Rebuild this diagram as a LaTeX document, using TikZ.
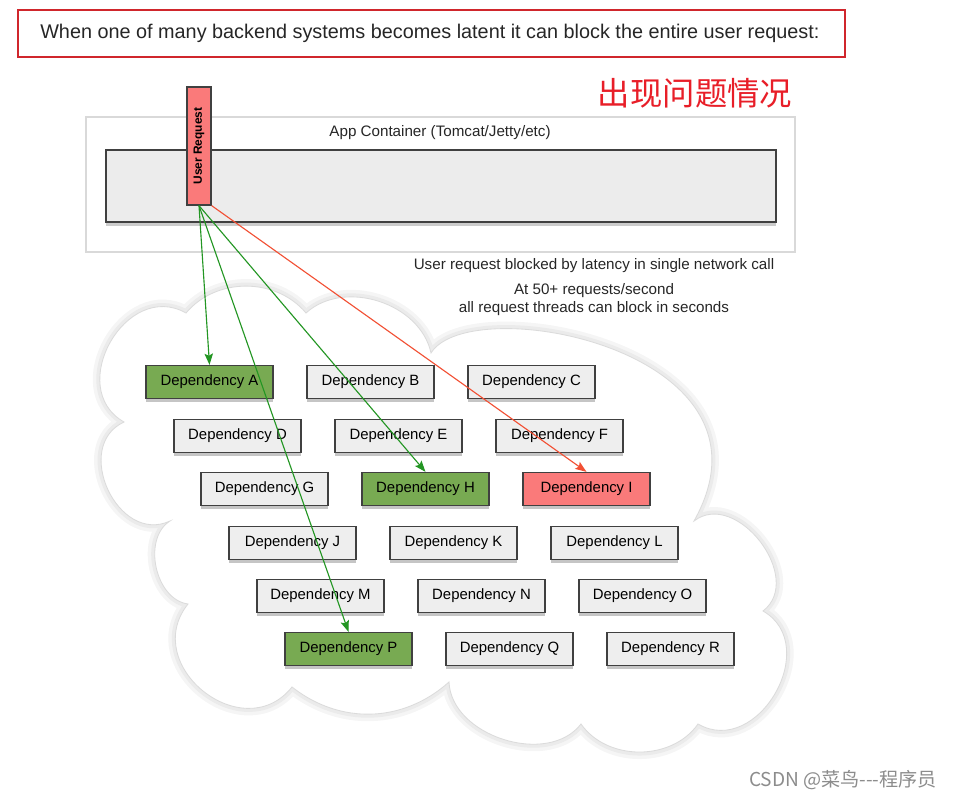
\documentclass[tikz,border=0pt]{standalone}
\usepackage{fontspec}
\setmainfont{Liberation Sans}
\newfontfamily\cjkfont{Noto Sans CJK SC}
\usepackage{tikz}
\usetikzlibrary{arrows, arrows.meta, shadows, positioning}
\definecolor{depgreen}{RGB}{120,170,82}
\definecolor{depred}{RGB}{250,122,122}
\definecolor{depgray}{RGB}{238,238,238}
\definecolor{framered}{RGB}{208,38,44}
\definecolor{titlered}{RGB}{232,30,40}
\definecolor{arrowgreen}{RGB}{35,150,35}
\definecolor{arrowred}{RGB}{242,80,52}
\tikzstyle{arrow} = [-{Stealth[length=8pt, width=6pt, inset=1.5pt]}, line width=0.8pt]
\tikzset{dep/.style={draw=black!75, line width=0.9pt, fill=depgray, minimum width=3.175cm, minimum height=0.825cm, inner sep=0pt, font=\fontsize{10.6}{12}\selectfont, drop shadow={shadow xshift=0pt, shadow yshift=-2.5pt, opacity=0.45}},
  depok/.style={dep, fill=depgreen},
  depbad/.style={dep, fill=depred},
  note/.style={font=\fontsize{10.8}{13}\selectfont, text=black!85},}

\begin{document}
\begin{tikzpicture}[x=0.025cm, y=-0.025cm]
            \useasboundingbox (0,0) rectangle (953,800);
            % Draw the caption frame
            \draw[framered, line width=1.1pt] (18,10) rectangle (845,57);
            \node (caption) at (40,33) [right, inner sep=0pt, text=black!85, font=\fontsize{14.1}{16}\selectfont] {When one of many backend systems becomes latent it can block the entire user request:};
            \node (title) at (695,93) [text=titlered, font=\cjkfont\fontsize{23}{26}\selectfont] {出现问题情况};

            % Draw the app container with the request
            \draw[black!15, fill=white, line width=0.8pt] (86,117) rectangle (795,252);
            \node (applabel) at (440,133) [note] {App Container (Tomcat/Jetty/etc)};
            \draw[black!75, fill=gray!15, line width=1pt, drop shadow={shadow xshift=0pt, shadow yshift=-3pt, opacity=0.4}] (106,150) rectangle (776,222);
            \node (ureq) at (199,146) [draw=black!75, line width=0.9pt, fill=depred, minimum width=2.95cm, minimum height=0.6cm, inner sep=0pt, rotate=90, font=\bfseries\fontsize{8.5}{10}\selectfont] {User Request};

            % Draw the cloud of dependencies
            \path[fill=white, draw=black!14, line width=0.6pt, preaction={draw=black!4, line width=10pt}, preaction={draw=black!8, line width=5pt}]
              (124,422) to[bend left=90, looseness=1.4] (186,313)
              to[bend left=50] (306,313)
              to[bend left=60] (431,353)
              .. controls (470,290) and (790,350) .. (694,521)
              to[bend left=90, looseness=1.2] (763,611)
              to[bend left=90, looseness=1.35] (698,724)
              to[bend left=55] (581,724)
              to[bend left=70] (449,682)
              to[bend left=40] (292,687)
              to[bend left=90, looseness=1.5] (188,604)
              to[bend left=70] (170,521)
              to[bend left=90, looseness=1.35] cycle;

            % Draw the notes
            \node (blocked) at (594,266) [note] {User request blocked by latency in single network call};
            \node (rate) [note, align=center, below=0cm of blocked] {At 50+ requests/second\\all request threads can block in seconds};

            \node (depA) at (209.5,382) [depok] {Dependency A};
            \node (depB) at (370.5,382) [dep] {Dependency B};
            \node (depC) at (531.5,382) [dep] {Dependency C};
            \node (depD) at (237.5,436) [dep] {Dependency D};
            \node (depE) at (398.5,436) [dep] {Dependency E};
            \node (depF) at (559.5,436) [dep] {Dependency F};
            \node (depG) at (264.5,489) [dep] {Dependency G};
            \node (depH) at (425.5,489) [depok] {Dependency H};
            \node (depI) at (586.5,489) [depbad] {Dependency I};
            \node (depJ) at (292.5,543) [dep] {Dependency J};
            \node (depK) at (453.5,543) [dep] {Dependency K};
            \node (depL) at (614.5,543) [dep] {Dependency L};
            \node (depM) at (320.5,596) [dep] {Dependency M};
            \node (depN) at (481.5,596) [dep] {Dependency N};
            \node (depO) at (642.5,596) [dep] {Dependency O};
            \node (depP) at (348.5,649) [depok] {Dependency P};
            \node (depQ) at (509.5,649) [dep] {Dependency Q};
            \node (depR) at (670.5,649) [dep] {Dependency R};

            % Draw the calls
            \draw[arrow, arrowgreen] (ureq.west) -- (depA.north);
            \draw[arrow, arrowgreen] (ureq.west) -- (depP.north);
            \draw[arrow, arrowgreen] (ureq.west) -- (depH.north);
            \draw[arrow, arrowred] (ureq.south west) -- (depI.north);

            \node (mark) at (843,780) [text=black!45, font=\cjkfont\fontsize{13.6}{15}\selectfont] {CSDN @菜鸟---程序员};
        \end{tikzpicture}
\end{document}
